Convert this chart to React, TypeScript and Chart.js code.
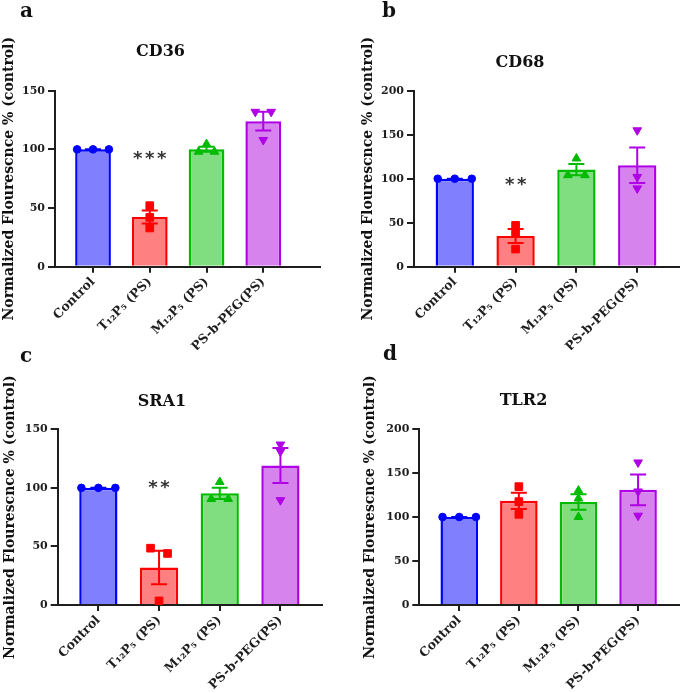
import React, { useEffect, useRef } from "react";
import { Chart, registerables } from "chart.js";
Chart.register(...registerables);

// ---------- data ----------
const categories = ["Control", "T\u2081\u2082P\u2085 (PS)", "M\u2081\u2082P\u2085 (PS)", "PS-b-PEG(PS)"];

const cd36Points = [
  [100, 100, 100],
  [52, 42, 33],
  [104.5, 98, 98],
  [132, 132, 108],
];
const cd68Points = [
  [100, 100, 100],
  [47, 38, 20],
  [123, 104, 104],
  [155, 102, 89],
];
const sra1Points = [
  [100, 100, 100],
  [48.5, 44, 3.5],
  [105, 90.5, 90.5],
  [137, 131, 89.5],
];
const tlr2Points = [
  [100, 100, 100],
  [134.5, 117.5, 103],
  [130, 121, 100],
  [162, 129, 101.5],
];

const cd36Sig = ["", "***", "", ""];
const cd68Sig = ["", "**", "", ""];
const sra1Sig = ["", "**", "", ""];
const tlr2Sig = ["", "", "", ""];

const cd36YTicks = [0, 50, 100, 150];
const cd68YTicks = [0, 50, 100, 150, 200];
const sra1YTicks = [0, 50, 100, 150];
const tlr2YTicks = [0, 50, 100, 150, 200];

// ---------- styles ----------
const borderColors = ["#0000ff", "#ff0000", "#00bb00", "#b000e6"];
const fillColors = ["#8080ff", "#ff8080", "#80de80", "#d683ee"];
const pointStyles = ["circle", "rect", "triangle", "triangle"];
const pointRotations = [0, 0, 0, 180];
const pointRadii = [3.8, 5.4, 5, 5];
const FONT = "'DejaVu Serif', serif";
const AXIS_COLOR = "#1e1e1e";

type Panel = {
  letter: string;
  title: string;
  points: number[][];
  sig: string[];
  sigLevel: number;
  yTicks: number[];
  xMax: number;
  canvas: { left: number; top: number; width: number; height: number };
  plot: { left: number; top: number; right: number; bottom: number };
  titleY: number;
  letterPos: { left: number; top: number };
};

const panels: Panel[] = [
  {
    letter: "a", title: "CD36", points: cd36Points, sig: cd36Sig, sigLevel: 93, yTicks: cd36YTicks, xMax: 4.0,
    canvas: { left: 1, top: 0, width: 339, height: 350 },
    plot: { left: 55, top: 90.7, right: 320, bottom: 266.7 }, titleY: 52,
    letterPos: { left: 20, top: 0 },
  },
  {
    letter: "b", title: "CD68", points: cd68Points, sig: cd68Sig, sigLevel: 95, yTicks: cd68YTicks, xMax: 3.68,
    canvas: { left: 360, top: 0, width: 325, height: 350 },
    plot: { left: 414, top: 90.7, right: 680, bottom: 266.7 }, titleY: 62.7,
    letterPos: { left: 382, top: 0 },
  },
  {
    letter: "c", title: "SRA1", points: sra1Points, sig: sra1Sig, sigLevel: 101, yTicks: sra1YTicks, xMax: 3.68,
    canvas: { left: 2, top: 345, width: 340, height: 348 },
    plot: { left: 57.7, top: 429.3, right: 321.7, bottom: 605 }, titleY: 402,
    letterPos: { left: 20, top: 345 },
  },
  {
    letter: "d", title: "TLR2", points: tlr2Points, sig: tlr2Sig, sigLevel: 0, yTicks: tlr2YTicks, xMax: 3.68,
    canvas: { left: 362, top: 345, width: 323, height: 348 },
    plot: { left: 419.3, top: 429, right: 685, bottom: 605 }, titleY: 401,
    letterPos: { left: 383, top: 343 },
  },
];

function meanOf(v: number[]) {
  return v.reduce((a, b) => a + b, 0) / v.length;
}
function semOf(v: number[]) {
  const m = meanOf(v);
  const s = Math.sqrt(v.reduce((a, b) => a + (b - m) * (b - m), 0) / (v.length - 1));
  return s / Math.sqrt(v.length);
}

// spread markers sideways only when they would overlap (Prism-like scatter)
function spreadPoints(vals: number[], yMax: number, plotH: number) {
  const thr = (6 * yMax) / plotH;
  const order = vals.map((_, i) => i).sort((a, b) => vals[b] - vals[a]);
  const clusters: number[][] = [];
  for (const i of order) {
    const last = clusters[clusters.length - 1];
    if (last && Math.abs(vals[last[last.length - 1]] - vals[i]) < thr) last.push(i);
    else clusters.push([i]);
  }
  const dx = new Array(vals.length).fill(0);
  clusters.forEach((c) => c.forEach((i, k) => (dx[i] = (k - (c.length - 1) / 2) * 0.28)));
  return vals.map((v, i) => ({ dx: dx[i], v }));
}

const errorBarPlugin = {
  id: "errorBars",
  afterDatasetDraw(chart: any, args: any, opts: any) {
    if (args.index !== 0) return;
    const { ctx } = chart;
    const x = chart.scales.x;
    const y = chart.scales.y;
    ctx.save();
    ctx.lineWidth = 2;
    opts.stats.forEach((s: { mean: number; sem: number }, i: number) => {
      const px = x.getPixelForValue(i);
      const yt = y.getPixelForValue(s.mean + s.sem);
      const yb = y.getPixelForValue(s.mean - s.sem);
      const cap = 8;
      ctx.strokeStyle = borderColors[i];
      ctx.beginPath();
      ctx.moveTo(px, yt);
      ctx.lineTo(px, yb);
      ctx.moveTo(px - cap, yt);
      ctx.lineTo(px + cap, yt);
      ctx.moveTo(px - cap, yb);
      ctx.lineTo(px + cap, yb);
      ctx.stroke();
    });
    ctx.restore();
  },
  afterDraw(chart: any, _args: any, opts: any) {
    const { ctx } = chart;
    const x = chart.scales.x;
    const y = chart.scales.y;
    ctx.save();
    ctx.fillStyle = "#333";
    ctx.font = "bold 18px 'DejaVu Sans', sans-serif";
    ctx.textAlign = "center";
    ctx.textBaseline = "alphabetic";
    (opts.sig as string[]).forEach((s, i) => {
      if (!s) return;
      const px = x.getPixelForValue(i);
      const py = y.getPixelForValue(opts.sigLevel);
      const pitch = 12;
      for (let k = 0; k < s.length; k++) {
        const cx = px + (k - (s.length - 1) / 2) * pitch;
        ctx.fillText(s[k], cx, py + 6.5);
      }
    });
    ctx.restore();
  },
};

function PanelChart({ p }: { p: Panel }) {
  const ref = useRef<HTMLCanvasElement | null>(null);
  useEffect(() => {
    if (!ref.current) return;
    const yMax = p.yTicks[p.yTicks.length - 1];
    const plotH = p.plot.bottom - p.plot.top;
    const stats = p.points.map((v) => ({ mean: meanOf(v), sem: semOf(v) }));
    const titleSize = 16;
    const titleLH = titleSize * 1.2;
    const padRight = p.canvas.left + p.canvas.width - p.plot.right;
    const yAxisW = p.plot.left - p.canvas.left;
    const xAxisH = p.canvas.top + p.canvas.height - p.plot.bottom;
    const titleTop = p.titleY - p.canvas.top - titleLH / 2;
    const titleBottom = p.plot.top - p.titleY - titleLH / 2;

    const datasets: any[] = [
      {
        type: "bar",
        data: stats.map((s, i) => ({ x: i, y: s.mean })),
        backgroundColor: fillColors,
        borderColor: borderColors,
        borderWidth: 2.5,
        borderSkipped: "start",
        barPercentage: 0.63,
        categoryPercentage: 1,
        order: 2,
      },
      ...p.points.map((vals, i) => ({
        type: "scatter",
        data: spreadPoints(vals, yMax, plotH).map((q) => ({ x: i + q.dx, y: q.v })),
        pointStyle: pointStyles[i],
        rotation: pointRotations[i],
        pointRadius: pointRadii[i],
        backgroundColor: borderColors[i],
        borderColor: borderColors[i],
        borderWidth: 1,
        order: 1,
      })),
    ];

    const chart = new Chart(ref.current, {
      type: "bar",
      data: { datasets },
      plugins: [errorBarPlugin as any],
      options: {
        animation: false,
        responsive: false,
        events: [],
        layout: { padding: { left: 0, right: padRight, top: 0, bottom: 0 } },
        plugins: {
          legend: { display: false },
          tooltip: { enabled: false },
          title: {
            display: true,
            text: p.title,
            color: "#111",
            font: { family: FONT, size: titleSize, weight: "bold", lineHeight: 1.2 },
            padding: { top: titleTop, bottom: titleBottom },
          },
          errorBars: { stats, sig: p.sig, sigLevel: p.sigLevel },
        } as any,
        scales: {
          x: {
            type: "linear",
            offset: false,
            min: -0.67,
            max: p.xMax,
            afterBuildTicks: (s: any) => {
              s.ticks = categories.map((_, i) => ({ value: i }));
            },
            afterFit: (s: any) => {
              s.height = xAxisH;
            },
            grid: { offset: false, drawOnChartArea: false, drawTicks: true, tickLength: 6, color: AXIS_COLOR, lineWidth: 2 },
            border: { display: true, color: AXIS_COLOR, width: 2 },
            ticks: {
              autoSkip: false,
              minRotation: 45,
              maxRotation: 45,
              padding: 2,
              color: AXIS_COLOR,
              font: { family: FONT, size: 12.5, weight: "bold" },
              callback: (v: any) => categories[Math.round(Number(v))] ?? "",
            },
          },
          y: {
            type: "linear",
            min: 0,
            max: yMax,
            afterBuildTicks: (s: any) => {
              s.ticks = p.yTicks.map((v) => ({ value: v }));
            },
            afterFit: (s: any) => {
              s.width = yAxisW;
            },
            grid: { drawOnChartArea: false, drawTicks: true, tickLength: 7, color: AXIS_COLOR, lineWidth: 2 },
            border: { display: true, color: AXIS_COLOR, width: 2 },
            ticks: {
              padding: 3,
              color: AXIS_COLOR,
              font: { family: FONT, size: 11, weight: "bold" },
            },
            title: {
              display: true,
              text: "Normalized Flourescnce % (control)",
              color: "#111",
              padding: { top: 0, bottom: 0 },
              font: { family: FONT, size: 14, weight: "bold", lineHeight: 1.2 },
            },
          },
        },
      } as any,
    });
    return () => chart.destroy();
  }, [p]);

  return (
    <canvas
      ref={ref}
      width={p.canvas.width}
      height={p.canvas.height}
      style={{ position: "absolute", left: p.canvas.left, top: p.canvas.top, width: p.canvas.width, height: p.canvas.height }}
    />
  );
}

export default function App() {
  return (
    <div style={{ position: "fixed", left: 0, top: 0, width: 685, height: 693, background: "#fff", overflow: "hidden" }}>
      {panels.map((p) => (
        <PanelChart key={p.letter} p={p} />
      ))}
      {panels.map((p) => (
        <div
          key={"l" + p.letter}
          style={{
            position: "absolute",
            left: p.letterPos.left,
            top: p.letterPos.top,
            font: `bold 20px ${FONT}`,
            lineHeight: "20px",
            color: "#111",
          }}
        >
          {p.letter}
        </div>
      ))}
    </div>
  );
}
